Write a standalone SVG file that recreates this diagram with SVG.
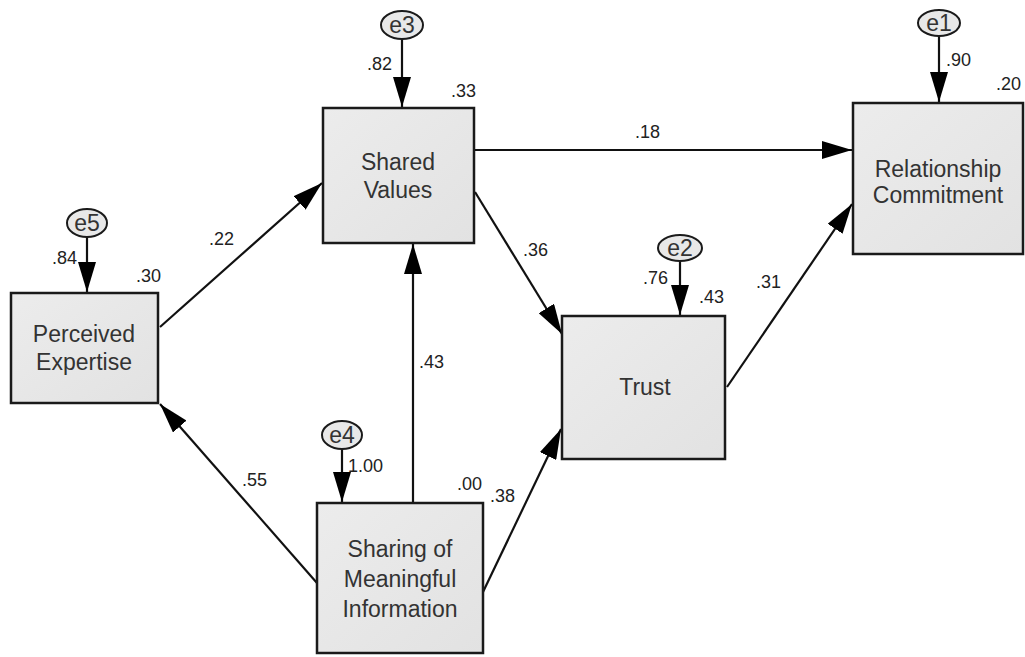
<svg xmlns="http://www.w3.org/2000/svg" width="1025" height="657" viewBox="0 0 1025 657">
<style>
.box{fill:url(#g);stroke:#1a1a1a;stroke-width:2.5}
.err{fill:#e8e8e8;stroke:#1a1a1a;stroke-width:2}
.nt{font-family:"Liberation Sans",Arial,sans-serif;font-size:23px;fill:#333;text-anchor:middle}
.et{font-family:"Liberation Sans",Arial,sans-serif;font-size:23px;fill:#333;text-anchor:middle}
.lb{font-family:"Liberation Sans",Arial,sans-serif;font-size:18px;fill:#222}
.ln{stroke:#111;stroke-width:2.2;fill:none;marker-end:url(#ah)}
</style>
<defs>
<linearGradient id="g" x1="0" y1="0" x2="1" y2="1">
<stop offset="0" stop-color="#ececec"/>
<stop offset="1" stop-color="#e2e2e2"/>
</linearGradient>
<marker id="ah" markerUnits="userSpaceOnUse" markerWidth="30" markerHeight="18" refX="30" refY="9" orient="auto" viewBox="0 0 30 18">
<path d="M0,0 L30,9 L0,18 z" fill="#000"/>
</marker>
</defs>
<rect width="1025" height="657" fill="#fff"/>
<g id="connectors">
<line class="ln" x1="87" y1="237" x2="87" y2="292"/>
<line class="ln" x1="402" y1="39" x2="402" y2="107"/>
<line class="ln" x1="939" y1="36" x2="939" y2="102"/>
<line class="ln" x1="680" y1="261" x2="680" y2="315"/>
<line class="ln" x1="342" y1="449" x2="342" y2="502"/>
<line class="ln" x1="160" y1="327" x2="322" y2="183"/>
<line class="ln" x1="475" y1="150" x2="852" y2="150"/>
<line class="ln" x1="475" y1="192" x2="562" y2="334"/>
<line class="ln" x1="727" y1="387" x2="852" y2="204"/>
<line class="ln" x1="413" y1="503" x2="413" y2="244"/>
<line class="ln" x1="317" y1="583" x2="160" y2="404"/>
<line class="ln" x1="483" y1="592" x2="561" y2="429"/>
<text class="lb" x="209" y="245">.22</text>
<text class="lb" x="635" y="138">.18</text>
<text class="lb" x="523" y="256">.36</text>
<text class="lb" x="756" y="288">.31</text>
<text class="lb" x="419" y="368">.43</text>
<text class="lb" x="242" y="486">.55</text>
<text class="lb" x="490" y="502">.38</text>
</g>
<g id="e5">
<ellipse class="err" cx="87" cy="223" rx="20" ry="14"/>
<text class="et" x="87" y="231">e5</text>
<text class="lb" x="52" y="264">.84</text>
</g>
<g id="e3">
<ellipse class="err" cx="402" cy="25" rx="21" ry="14"/>
<text class="et" x="402" y="33">e3</text>
<text class="lb" x="367" y="70">.82</text>
</g>
<g id="e1">
<ellipse class="err" cx="939" cy="23" rx="21" ry="13"/>
<text class="et" x="939" y="31">e1</text>
<text class="lb" x="946" y="66">.90</text>
</g>
<g id="e2">
<ellipse class="err" cx="680" cy="248" rx="22" ry="13"/>
<text class="et" x="680" y="256">e2</text>
<text class="lb" x="643" y="284">.76</text>
</g>
<g id="e4">
<ellipse class="err" cx="342" cy="435" rx="20" ry="14"/>
<text class="et" x="342" y="443">e4</text>
<text class="lb" x="348" y="472">1.00</text>
</g>
<g id="perceived-expertise">
<rect class="box" x="11" y="293" width="147" height="110"/>
<text class="nt" x="84" y="342">Perceived</text>
<text class="nt" x="84" y="370">Expertise</text>
<text class="lb" x="136" y="282">.30</text>
</g>
<g id="shared-values">
<rect class="box" x="323" y="108" width="151" height="135"/>
<text class="nt" x="398" y="170">Shared</text>
<text class="nt" x="398" y="198">Values</text>
<text class="lb" x="451" y="97">.33</text>
</g>
<g id="relationship-commitment">
<rect class="box" x="853" y="103" width="170" height="151"/>
<text class="nt" x="938" y="177">Relationship</text>
<text class="nt" x="938" y="203">Commitment</text>
<text class="lb" x="996" y="90">.20</text>
</g>
<g id="trust">
<rect class="box" x="562" y="316" width="163" height="143"/>
<text class="nt" x="645" y="395">Trust</text>
<text class="lb" x="699" y="303">.43</text>
</g>
<g id="sharing-info">
<rect class="box" x="317" y="503" width="166" height="150"/>
<text class="nt" x="400" y="557">Sharing of</text>
<text class="nt" x="400" y="587">Meaningful</text>
<text class="nt" x="400" y="617">Information</text>
<text class="lb" x="457" y="490">.00</text>
</g>
</svg>
